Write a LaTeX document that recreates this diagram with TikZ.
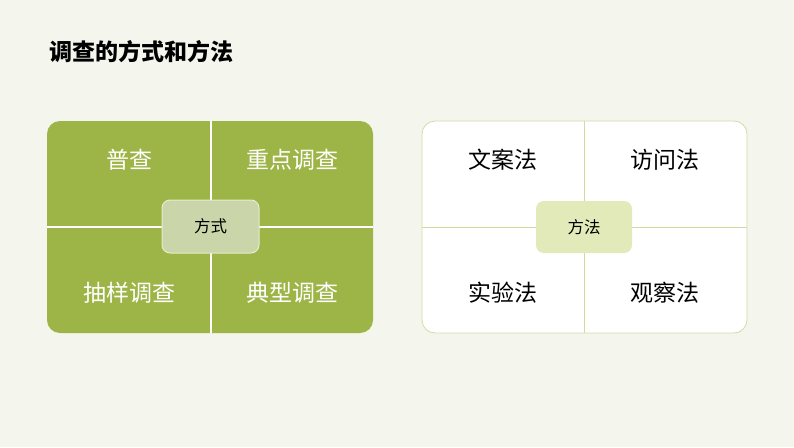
\documentclass[tikz,border=0pt]{standalone}
\usepackage{fontspec}
\setmainfont{Noto Sans CJK SC}
\definecolor{bgc}{HTML}{F4F6EE}
\definecolor{olive}{HTML}{9DB446}
\definecolor{sage}{HTML}{CAD6A9}
\definecolor{sageedge}{HTML}{E4ECCB}
\definecolor{lime}{HTML}{E2EAB9}
\definecolor{limeedge}{HTML}{D0DCA2}
\tikzset{
  celltext/.style={font=\fontsize{23}{27}\selectfont, inner sep=0pt},
  centertext/.style={font=\fontsize{16.5}{19}\selectfont},
}
\begin{document}
\begin{tikzpicture}[x=1pt,y=-1pt]
\fill[bgc] (0,0) rectangle (794,447);
\useasboundingbox (0,0) rectangle (794,447);
\node[anchor=west, font=\fontsize{23}{27}\selectfont\bfseries, inner sep=0pt] (title) at (49,52) {调查的方式和方法};
% left panel
\fill[olive, rounded corners=13pt] (47,121) rectangle (373,333);
\coordinate (lt) at (211,121); \coordinate (lb) at (211,333);
\coordinate (ll) at (47,227); \coordinate (lr) at (373,227);
\draw[white, line width=1.2pt] (lt) -- (lb) (ll) -- (lr);
\node[draw=sageedge, line width=1pt, fill=sage, rounded corners=8pt, minimum width=97pt, minimum height=53pt, centertext, text=black] (fs) at (210.5,226.5) {方式};
\node[celltext, text=white] (a1) at (129,160) {普查};
\node[celltext, text=white] (a2) at (292,160) {重点调查};
\node[celltext, text=white] (a3) at (129,293) {抽样调查};
\node[celltext, text=white] (a4) at (292,293) {典型调查};
% right panel
\fill[white, rounded corners=13pt] (422,121) rectangle (747,333);
\draw[limeedge, line width=0.8pt, rounded corners=13pt] (422,121) rectangle (747,333);
\coordinate (rt) at (584,121); \coordinate (rb) at (584,333);
\coordinate (rl) at (422,227); \coordinate (rr) at (747,227);
\draw[limeedge, line width=1pt] (rt) -- (rb) (rl) -- (rr);
\node[fill=lime, rounded corners=8pt, minimum width=96pt, minimum height=52pt, centertext, text=black] (ff) at (584,227) {方法};
\node[celltext] (b1) at (503,160) {文案法};
\node[celltext] (b2) at (665,160) {访问法};
\node[celltext] (b3) at (503,293) {实验法};
\node[celltext] (b4) at (665,293) {观察法};
\end{tikzpicture}
\end{document}
